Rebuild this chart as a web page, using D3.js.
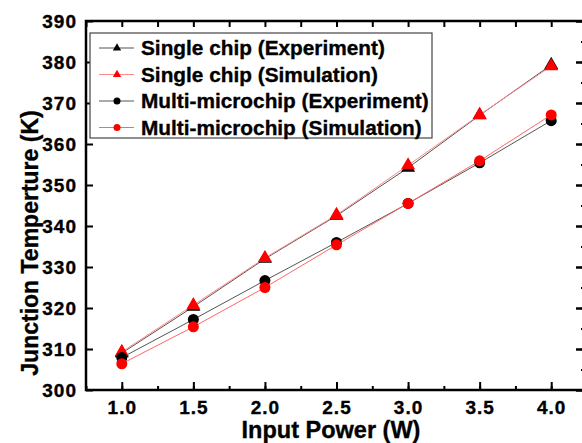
<!DOCTYPE html>
<html>
<head>
<meta charset="utf-8">
<script src="https://cdn.jsdelivr.net/npm/d3@7/dist/d3.min.js"></script>
<style>
	body { margin: 0; background: #fff; }
	text { font-family: "Liberation Sans", Arial, sans-serif; font-weight: bold; fill: #000; stroke: #000; stroke-width: 0.35px; }
</style>
</head>
<body>
<div id="chart"></div>
<script>

	// data
	var power = [1.0, 1.5, 2.0, 2.5, 3.0, 3.5, 4.0];
	var singleExp = [309.0, 320.3, 332.0, 342.5, 354.2, 367.0, 379.3];
	var singleSim = [309.3, 320.7, 332.2, 342.7, 354.8, 367.1, 379.0];
	var multiExp = [307.9, 317.2, 326.7, 336.0, 345.5, 355.4, 365.7];
	var multiSim = [306.4, 315.4, 325.0, 335.4, 345.5, 355.9, 367.1];
	var xTicks = [1.0, 1.5, 2.0, 2.5, 3.0, 3.5, 4.0];
	var yTicks = [300, 310, 320, 330, 340, 350, 360, 370, 380, 390];

	var series = [
		{ name: 'Single chip (Experiment)', values: singleExp, color: '#000', line: '#555', shape: 'tri' },
		{ name: 'Single chip (Simulation)', values: singleSim, color: '#f00', line: '#f88', shape: 'tri' },
		{ name: 'Multi-microchip (Experiment)', values: multiExp, color: '#000', line: '#555', shape: 'circ' },
		{ name: 'Multi-microchip (Simulation)', values: multiSim, color: '#f00', line: '#f66', shape: 'circ' }
	];

	var W = 582, H = 443;
	var plot = { left: 86, right: 587, top: 21, bottom: 390 };

	var svg = d3.select('#chart').append('svg')
		.attr('width', W)
		.attr('height', H);

	var x = d3.scaleLinear().domain([0.75, 4.25]).range([plot.left, plot.right]);
	var y = d3.scaleLinear().domain([300, 390]).range([plot.bottom, plot.top]);

	var minorX = d3.range(0.75, 4.26, 0.25);
	var minorY = d3.range(300, 391, 5);

	//ticks: bottom (inward, up)
	svg.append('g')
		.attr('transform', 'translate(0,' + plot.bottom + ')')
		.call(d3.axisBottom(x).tickValues(minorX).tickSize(-4).tickFormat(''))
		.call(function (g) { g.select('.domain').remove(); g.selectAll('line').attr('stroke-width', 2); });
	svg.append('g')
		.attr('transform', 'translate(0,' + plot.bottom + ')')
		.call(d3.axisBottom(x).tickValues(xTicks).tickSize(-8).tickPadding(11).tickFormat(d3.format('.1f')))
		.call(function (g) {
			g.select('.domain').remove();
			g.selectAll('line').attr('stroke-width', 2);
			g.selectAll('text').style('font-size', '19px').style('letter-spacing', '1px');
		});

	//top ticks
	svg.append('g')
		.attr('transform', 'translate(0,' + plot.top + ')')
		.call(d3.axisTop(x).tickValues(minorX).tickSize(-6).tickFormat(''))
		.call(function (g) { g.select('.domain').remove(); g.selectAll('line').attr('stroke-width', 2); });

	//left ticks
	svg.append('g')
		.attr('transform', 'translate(' + plot.left + ',0)')
		.call(d3.axisLeft(y).tickValues(yTicks).tickSize(-7).tickPadding(9))
		.call(function (g) {
			g.select('.domain').remove();
			g.selectAll('line').attr('stroke-width', 2);
			g.selectAll('text').style('font-size', '19px').style('letter-spacing', '1px');
		});

	//right ticks (axis itself sits just off the canvas)
	svg.append('g')
		.attr('transform', 'translate(' + plot.right + ',0)')
		.call(d3.axisRight(y).tickValues(minorY).tickSize(-6).tickFormat(''))
		.call(function (g) { g.select('.domain').remove(); g.selectAll('line').attr('stroke-width', 2); });
	svg.append('g')
		.attr('transform', 'translate(' + plot.right + ',0)')
		.call(d3.axisRight(y).tickValues(yTicks).tickSize(-11).tickFormat(''))
		.call(function (g) { g.select('.domain').remove(); g.selectAll('line').attr('stroke-width', 2.5); });

	//frame
	svg.append('rect')
		.attr('x', plot.left)
		.attr('y', plot.top)
		.attr('width', plot.right - plot.left)
		.attr('height', plot.bottom - plot.top)
		.attr('fill', 'none')
		.attr('stroke', '#000')
		.attr('stroke-width', 2.5);

	var tri = d3.symbol().type(d3.symbolTriangle);

	//series
	series.forEach(function (s) {
		var pts = power.map(function (p, i) { return [x(p), y(s.values[i])]; });
		svg.append('path')
			.attr('d', d3.line()(pts))
			.attr('fill', 'none')
			.attr('stroke', s.line)
			.attr('stroke-width', 1);
		pts.forEach(function (p) {
			if (s.shape === 'tri') {
				svg.append('path')
					.attr('d', tri.size(85)())
					.attr('transform', 'translate(' + p[0] + ',' + p[1] + ')')
					.attr('fill', s.color);
			} else {
				svg.append('circle')
					.attr('cx', p[0])
					.attr('cy', p[1])
					.attr('r', 5.5)
					.attr('fill', s.color);
			}
		});
	});

	//legend
	var lg = svg.append('g').attr('transform', 'translate(90,33)');
	lg.append('rect')
		.attr('width', 342)
		.attr('height', 105)
		.attr('fill', '#fff')
		.attr('stroke', '#444')
		.attr('stroke-width', 1.2);
	series.forEach(function (s, i) {
		var cy = 15 + i * 26.5;
		lg.append('line')
			.attr('x1', 9).attr('x2', 44)
			.attr('y1', cy).attr('y2', cy)
			.attr('stroke', s.line)
			.attr('stroke-width', 1);
		if (s.shape === 'tri') {
			lg.append('path')
				.attr('d', tri.size(30)())
				.attr('transform', 'translate(27,' + cy + ')')
				.attr('fill', s.color);
		} else {
			lg.append('circle')
				.attr('cx', 27).attr('cy', cy).attr('r', 3.5)
				.attr('fill', s.color);
		}
		lg.append('text')
			.attr('x', 51)
			.attr('y', cy)
			.attr('dy', '0.36em')
			.style('font-size', '20.8px')
			.text(s.name);
	});

	//axis titles
	svg.append('text')
		.attr('transform', 'translate(38,243) rotate(-90)')
		.attr('text-anchor', 'middle')
		.style('font-size', '23px')
		.text('Junction Temperture (K)');
	svg.append('text')
		.attr('x', 331)
		.attr('y', 438)
		.attr('text-anchor', 'middle')
		.style('font-size', '23.5px')
		.text('Input Power (W)');

</script>
</body>
</html>
